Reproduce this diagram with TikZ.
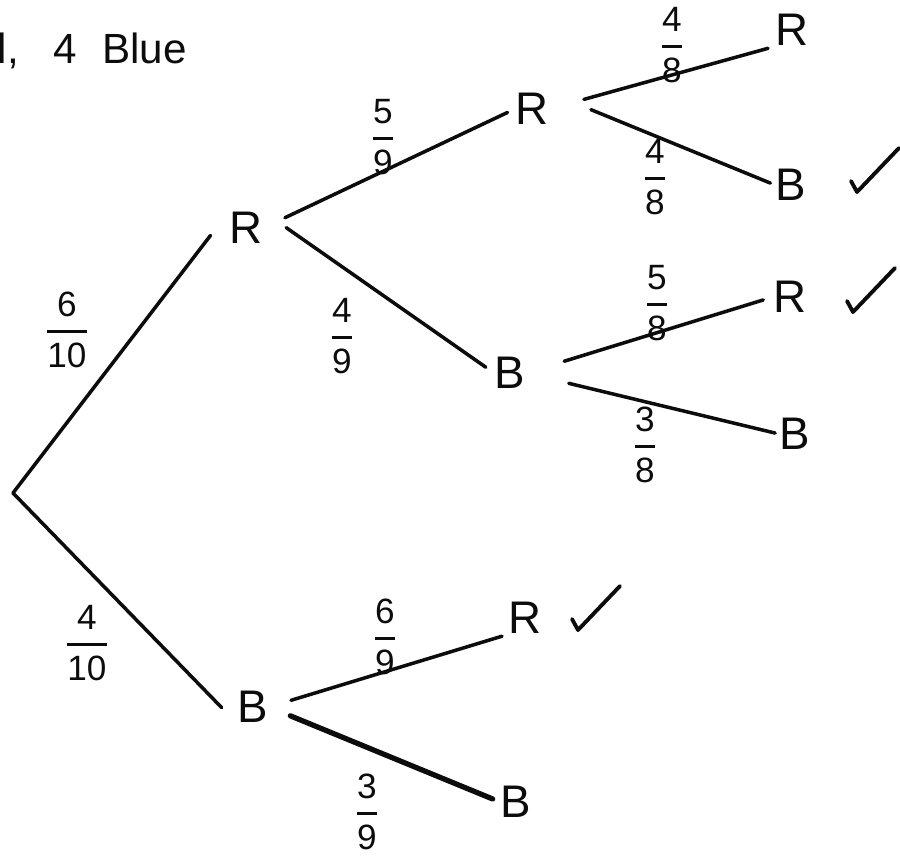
\documentclass[tikz,border=0pt]{standalone}
\usepackage{amsmath}
\usepackage{fontspec}
\setmainfont{Liberation Sans}
\usetikzlibrary{positioning}
\definecolor{inkgrey}{RGB}{12,12,12}
\newcommand{\chance}[2]{$\genfrac{}{}{0.9pt}{0}{\text{#1}}{\text{#2}}$}

\begin{document}
\begin{tikzpicture}[x=0.01cm,y=-0.01cm]
  \tikzstyle{pick}=[text=inkgrey,inner sep=0pt,font=\fontsize{13}{15}\selectfont]
  \tikzstyle{prob}=[text=inkgrey,inner sep=0pt,font=\fontsize{10}{12}\selectfont]
  \tikzstyle{branch}=[draw=inkgrey,line width=1pt,line cap=round]
  \tikzset{tick/.pic={\draw[inkgrey,line width=1.1pt,line cap=round,line join=round]
    (-6,-11) -- (0,0) -- (42,-44);}}

  \useasboundingbox (0,0) rectangle (900,857);

  % -- Bag contents --
  \node[pick,anchor=base west,font=\fontsize{12}{14}\selectfont] (bag) at (-3,63)
    {l,\hspace{0.82em}4\hspace{0.6em}Blue};

  % -- First draw --
  \coordinate (start) at (13,493);
  \node[pick] (r1) at (246,228) {R};
  \node[pick] (b1) at (253,707) {B};
  \node[prob] (p610) at (67,330) {\chance{6}{10}};
  \node[prob] (p410) at (87,643) {\chance{4}{10}};

  % -- Second draw --
  \node[pick] (r2) at (532,109) {R};
  \node[pick] (b2) at (510,373) {B};
  \node[pick] (r5) at (525,618) {R};
  \node[pick] (b5) at (516,802) {B};
  \node[prob] (p59) at (383,137) {\chance{5}{9}};
  \node[prob] (p49) at (342,336) {\chance{4}{9}};
  \node[prob] (p69) at (385,637) {\chance{6}{9}};
  \node[prob] (p39) at (367,812) {\chance{3}{9}};

  % -- Third draw --
  \node[pick] (r3) at (792,30) {R};
  \node[pick] (b3) at (791,185) {B};
  \node[pick] (r4) at (790,297) {R};
  \node[pick] (b4) at (795,434) {B};
  \node[prob] (p48a) at (672,45) {\chance{4}{8}};
  \node[prob] (p48b) at (655,177) {\chance{4}{8}};
  \node[prob] (p58) at (657,303) {\chance{5}{8}};
  \node[prob] (p38) at (645,445) {\chance{3}{8}};

  % -- Branches --
  \draw[branch,shorten >=0.3cm] (start) -- (r1.north west);
  \draw[branch,shorten >=0.22cm] (start) -- (b1.south west);
  \draw[branch,shorten <=0.24cm,shorten >=0.08cm] (r1.east) -- (r2.west);
  \draw[branch,shorten <=0.28cm,shorten >=0.1cm] (r1.north east) -- (b2.west);
  \draw[branch,shorten <=0.36cm,shorten >=0.07cm] (r2.east) -- (r3.south west);
  \draw[branch,shorten <=0.45cm,shorten >=0.05cm] (r2.north east) -- (b3.west);
  \draw[branch,shorten <=0.4cm,shorten >=0.1cm] (b2.east) -- (r4.west);
  \draw[branch,shorten <=0.44cm,shorten >=0.04cm] (b2.east) -- (b4.west);
  \draw[branch,shorten <=0.23cm,shorten >=0.06cm] (b1.east) -- (r5.south west);
  \draw[branch,line width=1.5pt,shorten <=0.23cm,shorten >=0.08cm] (b1.east) -- (b5.west);

  % -- Ticks for one of each colour --
  \pic at (857,192) {tick};
  \pic at (853,312) {tick};
  \pic at (578,630) {tick};
\end{tikzpicture}
\end{document}
